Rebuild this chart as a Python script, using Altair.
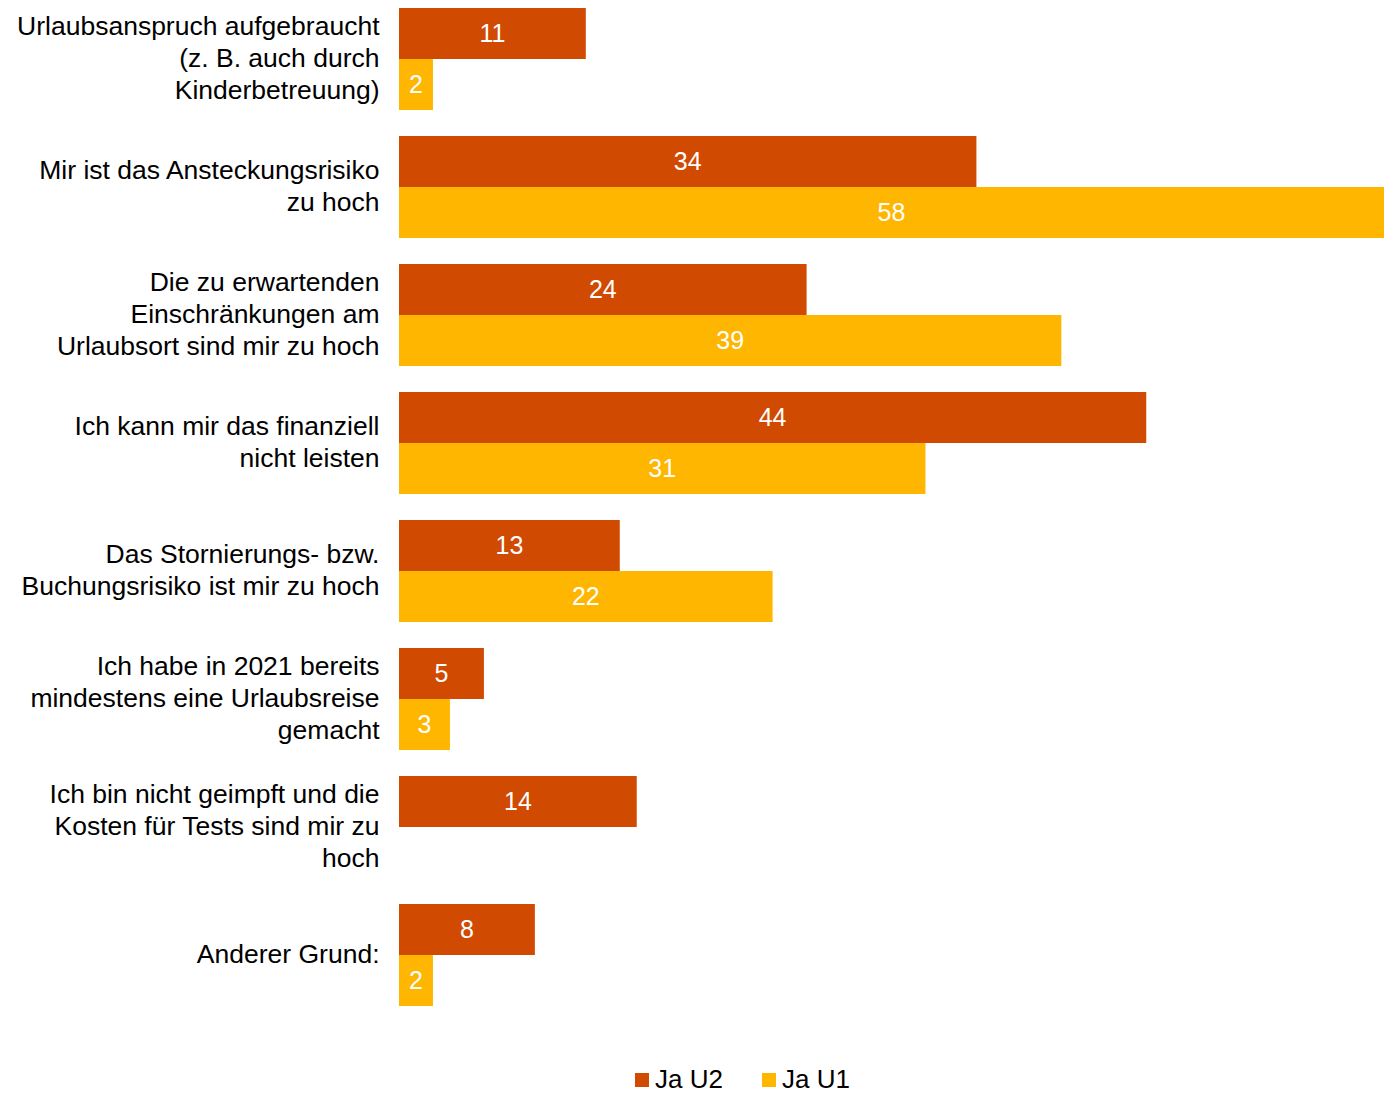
import altair as alt
import pandas as pd

categories = [
    "Urlaubsanspruch aufgebraucht|(z. B. auch durch|Kinderbetreuung)",
    "Mir ist das Ansteckungsrisiko|zu hoch",
    "Die zu erwartenden|Einschränkungen am|Urlaubsort sind mir zu hoch",
    "Ich kann mir das finanziell|nicht leisten",
    "Das Stornierungs- bzw.|Buchungsrisiko ist mir zu hoch",
    "Ich habe in 2021 bereits|mindestens eine Urlaubsreise|gemacht",
    "Ich bin nicht geimpft und die|Kosten für Tests sind mir zu|hoch",
    "Anderer Grund:",
]
series = ["Ja U2", "Ja U1"]
values_u2 = [11, 34, 24, 44, 13, 5, 14, 8]
values_u1 = [2, 58, 39, 31, 22, 3, None, 2]
colors = ["#D04A02", "#FFB600"]

rows = []
for c, a, b in zip(categories, values_u2, values_u1):
    if a is not None:
        rows.append({"cat": c, "series": series[0], "value": a})
    if b is not None:
        rows.append({"cat": c, "series": series[1], "value": b})
df = pd.DataFrame(rows)

FONT = "Liberation Sans"
LH = 32

y_enc = alt.Y(
    "cat:N",
    sort=categories,
    scale=alt.Scale(paddingInner=0.203125, paddingOuter=0, round=False),
    axis=alt.Axis(
        title=None,
        domain=False,
        ticks=False,
        labelFont=FONT,
        labelFontSize=26.5,
        labelColor="#000000",
        labelPadding=20,
        labelLimit=0,
        labelLineHeight=LH,
        labelExpr="split(datum.label, '|')",
        labelOffset={
            "condition": [
                {"test": "length(split(datum.label, '|')) == 3", "value": -LH},
                {"test": "length(split(datum.label, '|')) == 2", "value": -LH / 2},
            ],
            "value": 0,
        },
    ),
)
yoff = alt.YOffset("series:N", sort=series, scale=alt.Scale(domain=series, paddingInner=0, paddingOuter=0))
x_scale = alt.Scale(domain=[0, 58], nice=False, zero=True)

bars = alt.Chart(df).mark_bar().encode(
    x=alt.X("value:Q", scale=x_scale, axis=None),
    y=y_enc,
    yOffset=yoff,
    color=alt.Color(
        "series:N",
        scale=alt.Scale(domain=series, range=colors),
        legend=alt.Legend(
            orient="none",
            legendX=230,
            legendY=1059,
            direction="horizontal",
            title=None,
            symbolType="square",
            symbolSize=196,
            symbolStrokeWidth=0,
            labelFont=FONT,
            labelFontSize=26,
            labelColor="#000000",
            labelOffset=0,
            columnPadding=33,
        ),
    ),
)

labels = alt.Chart(df).transform_calculate(mid="datum.value / 2").mark_text(
    font=FONT, fontSize=25, color="white", baseline="middle", align="center"
).encode(
    x=alt.X("mid:Q", scale=x_scale, axis=None),
    y=y_enc,
    yOffset=yoff,
    text=alt.Text("value:Q"),
)

chart = (
    alt.layer(bars, labels)
    .properties(
        width=985,
        height=998,
        autosize=alt.AutoSizeParams(type="none"),
        padding={"left": 391, "top": 0, "right": 1, "bottom": 90},
    )
    .configure_view(stroke=None)
)

chart.save("out.html", embed_options={"renderer": "svg", "actions": False})
